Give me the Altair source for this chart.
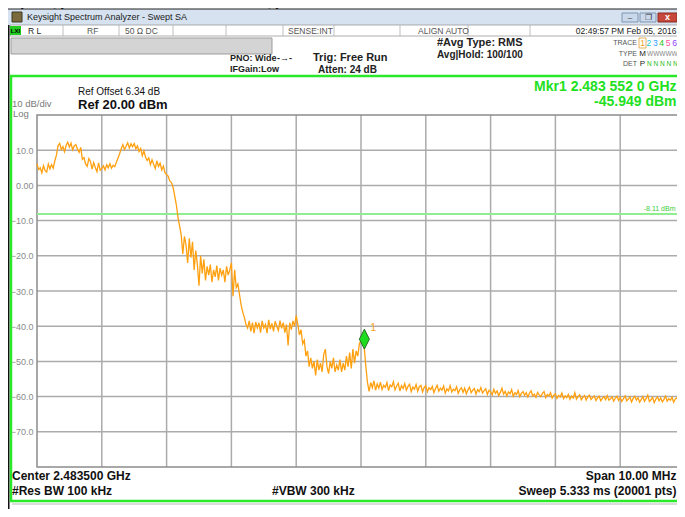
import altair as alt
import pandas as pd

center_ghz = 2.4835
span_ghz = 0.010
trace_dbm = [
    # -5 .. -4 MHz
    6.2, 4.5, 5.0, 3.6, 5.6, 4.2, 3.8, 6.1, 4.7, 5.9, 4.9, 7.0,
    8.6, 11.3, 11.9, 10.2, 11.0, 9.6, 11.4, 12.3, 10.9, 12.0, 10.1, 11.2, 11.6, 10.3, 9.4, 10.8,
    7.4, 7.9, 6.1, 5.4, 7.6, 6.8, 4.6, 6.5, 5.1, 3.9, 6.4, 4.3,
    # -4 .. -3 MHz
    4.8, 5.6, 4.4, 5.9, 5.0, 6.2, 4.9, 5.7, 5.3, 6.6,
    7.8, 9.0, 10.4, 11.6, 10.2, 11.1, 12.1, 10.6, 11.8, 11.0,
    11.9, 10.4, 11.2, 9.6, 10.5, 8.4, 9.8, 8.0, 7.1, 7.8,
    5.9, 7.3, 6.0, 4.8, 7.0, 5.4, 6.3, 4.4, 5.5, 3.6,
    # -3 .. -2 MHz
    3.0, 2.6, 1.2, 0.8, -0.5, -3.0, -5.5, -9.0, -11.5, -14.0,
    -19.5, -14.5, -17.0, -22.0, -15.0, -20.5, -16.0, -24.0, -18.5, -22.5,
    -28.5, -20.0, -25.0, -21.0, -27.0, -23.0, -25.5, -22.5, -27.5, -24.0,
    -26.0, -22.8, -27.0, -23.5, -25.5, -24.0, -27.5, -23.0, -25.5, -24.0,
    # -2 .. -1 MHz
    -22.0, -31.5, -24.0, -29.0, -28.0, -31.0, -34.0, -36.0, -37.5, -39.5,
    -40.5, -38.5, -41.5, -39.0, -42.0, -38.8, -40.5, -39.0, -41.8, -38.5,
    -40.5, -39.5, -42.0, -38.2, -40.8, -39.2, -41.5, -38.6, -40.0, -41.2,
    -38.4, -40.6, -39.0, -41.8, -39.5, -45.5, -39.0, -41.0, -38.5, -40.0,
    # -1 .. 0 MHz
    -37.0, -39.5, -42.5, -41.0, -45.0, -44.0, -48.5, -47.0, -51.5, -49.0,
    -52.0, -50.0, -54.0, -49.5, -52.5, -50.5, -53.0, -48.0, -46.5, -51.5,
    -53.5, -50.0, -52.0, -49.0, -53.0, -51.0, -52.5, -49.5, -53.0, -50.5,
    -52.5, -48.5, -51.5, -47.5, -52.0, -46.5, -50.5, -47.0, -48.5, -45.0,
    # 0 .. 1 MHz
    -44.0, -43.0, -46.0, -51.5, -56.0, -58.5, -56.0, -57.5, -55.5, -58.2,
    -56.4, -57.6, -55.9, -58.0, -56.8, -57.4, -56.0, -58.3, -56.7, -57.2,
    -55.8, -58.1, -57.0, -56.2, -58.4, -56.9, -57.7, -56.3, -58.2, -57.1,
    -56.5, -58.6, -57.3, -57.9, -56.6, -58.5, -57.2, -56.8, -58.7, -57.4,
    # 1 .. 2 MHz
    -56.9, -58.6, -57.5, -58.0, -57.1, -58.9, -57.7, -56.8, -58.5, -57.6,
    -58.2, -57.0, -59.0, -57.8, -58.4, -56.9, -58.7, -57.9, -58.3, -57.2,
    -59.1, -58.0, -57.5, -58.8, -57.6, -59.2, -58.1, -57.3, -58.9, -58.2,
    -57.7, -59.3, -58.0, -58.6, -57.4, -59.0, -58.3, -57.8, -59.4, -58.2,
    # 2 .. 3 MHz
    -58.6, -59.5, -57.9, -59.1, -58.4, -59.7, -58.8, -57.6, -59.3, -58.5,
    -59.8, -58.7, -59.2, -58.0, -59.9, -58.9, -59.4, -58.3, -60.0, -59.1,
    -58.6, -59.6, -58.9, -60.1, -59.0, -58.4, -59.8, -59.3, -60.2, -58.8,
    -59.5, -60.0, -59.1, -58.6, -60.3, -59.4, -59.8, -58.9, -60.4, -59.6,
    # 3 .. 4 MHz
    -59.2, -60.5, -59.7, -60.1, -59.0, -60.6, -59.8, -60.3, -59.4, -60.8,
    -59.9, -60.4, -58.9, -60.7, -60.0, -59.5, -60.9, -60.2, -59.7, -61.0,
    -60.1, -59.6, -60.8, -60.3, -59.8, -61.1, -60.4, -59.9, -61.2, -60.5,
    -60.0, -60.9, -59.7, -61.0, -60.6, -60.1, -61.3, -60.4, -59.9, -61.1,
    # 4 .. 5 MHz
    -60.2, -61.4, -60.6, -59.8, -61.2, -60.7, -60.1, -61.5, -60.5, -59.9,
    -61.0, -60.3, -61.6, -60.8, -60.0, -61.3, -60.6, -59.6, -61.4, -60.9,
    -60.2, -61.7, -60.7, -60.1, -61.2, -60.4, -61.5, -60.8, -59.9, -61.3,
    -60.6, -61.0, -60.2, -61.6, -60.7, -60.3, -61.4, -60.9, -60.1, -61.2,
    -60.5,
]
y_tick_values = [10, 0, -10, -20, -30, -40, -50, -60, -70]
x_grid_ghz = [2.4795, 2.4805, 2.4815, 2.4825, 2.4835, 2.4845, 2.4855, 2.4865, 2.4875]
display_line_dbm = [-8.11]
marker_freq_ghz = [2.483552]
marker_dbm = [-45.949]

FONT = "Liberation Sans"
NARROW = "Liberation Sans Narrow, Liberation Sans"
OX, OY = 37, 115          # page position of plot origin
PW, PH = 648, 352         # plotted grid size in pixels
VIEW_W = 640              # view kept inside the page; scale range reaches PW
RE = 676.5                # right edge of what the page can show

n_pts = len(trace_dbm)
start = center_ghz - span_ghz / 2
step = span_ghz / (n_pts - 1)
freqs = [round(start + i * step, 8) for i in range(n_pts)]
trace_df = pd.DataFrame({"freq_ghz": freqs, "level_dbm": trace_dbm})

xaxis = alt.Axis(labels=False, ticks=False, domain=False, title=None, grid=False)
yaxis = alt.Axis(values=y_tick_values, ticks=False, domain=False, title=None, grid=False,
                 labelColor="#8a8a8a", labelFontSize=9, labelFont=FONT, labelPadding=4,
                 labelExpr="datum.value == 0 ? '0.00' : format(datum.value, '.1f')")
X = alt.X("freq_ghz:Q", scale=alt.Scale(domain=[2.4785, 2.4885], range=[0, PW], nice=False, zero=False),
          axis=xaxis)
Y = alt.Y("level_dbm:Q", scale=alt.Scale(domain=[-80, 20], nice=False, zero=False), axis=yaxis)

one = pd.DataFrame({"k": [0]})


def T(s, x, y, size=10, weight="normal", color="#111111", align="left", font=FONT):
    return alt.Chart(one).mark_text(text=s, fontSize=size, fontWeight=weight, color=color,
                                    align=align, baseline="middle", font=font).encode(
        x=alt.value(x - OX), y=alt.value(y - OY))


def R(x1, y1, x2, y2, fill, stroke=None, sw=1.0, fill_opacity=1.0):
    kw = dict(fill=fill, fillOpacity=fill_opacity)
    if stroke:
        kw.update(stroke=stroke, strokeWidth=sw)
    return alt.Chart(one).mark_rect(**kw).encode(
        x=alt.value(x1 - OX), x2=alt.value(x2 - OX), y=alt.value(y1 - OY), y2=alt.value(y2 - OY))


def L(x1, y1, x2, y2, color, sw=1.0):
    return alt.Chart(one).mark_rule(color=color, strokeWidth=sw).encode(
        x=alt.value(x1 - OX), x2=alt.value(x2 - OX), y=alt.value(y1 - OY), y2=alt.value(y2 - OY))


layers = []
# page title (cut off at the top of the page)
layers.append(T("e]", 25, 0, size=24, color="#000000", align="right"))
layers.append(T("High Channel BandEdge", 29, 0, size=24, color="#000000"))
# window title bar
layers.append(R(8, 9, 686, 25, "#d6e2f0"))
layers.append(L(8, 9, 686, 9, "#202020", 1))
layers.append(R(12, 12, 22, 22, "#7b6a3c", "#3a3a20"))
layers.append(T("Keysight Spectrum Analyzer - Swept SA", 27, 17, size=9, color="#1a1a1a", font=NARROW))
layers.append(R(622, 13, 638, 22, "#c9d8ea", "#7f96b2"))
layers.append(R(640, 13, 656, 22, "#c9d8ea", "#7f96b2"))
layers.append(R(658, 13, 677, 22, "#c8473b", "#8a2a20"))
layers.append(T("–", 630, 18, size=8, color="#333333", align="center"))
layers.append(T("❐", 648, 17.5, size=8, color="#333333", align="center"))
layers.append(T("x", 667.5, 17, size=9, weight="bold", color="#ffffff", align="center"))
# status row
layers.append(R(10, 25, 686, 36, "#ffffff", "#9a9a9a", 0.8))
layers.append(R(10, 26, 21, 35, "#22cc22"))
layers.append(T("LXI", 15.5, 30.5, size=6, weight="bold", color="#000000", align="center"))
for sx in [63, 119, 173, 226, 283, 334, 400, 468, 530]:
    layers.append(L(sx, 25, sx, 36, "#b0b0b0", 0.8))
layers.append(T("R L", 28, 30.5, size=8.5, color="#222222", font=NARROW))
layers.append(T("RF", 87, 30.5, size=8.5, color="#555555", font=NARROW))
layers.append(T("50 Ω    DC", 125, 30.5, size=8.5, color="#555555", font=NARROW))
layers.append(T("SENSE:INT", 288, 30.5, size=8.5, color="#555555", font=NARROW))
layers.append(T("ALIGN AUTO", 418, 30.5, size=8.5, color="#555555", font=NARROW))
layers.append(T("02:49:57 PM Feb 05, 2016", RE, 30.5, size=8.5, color="#222222", align="right", font=NARROW))
# header area
layers.append(R(11, 38, 272, 54, "#d4d4d4", "#9d9d9d"))
layers.append(T("PNO: Wide", 230, 58, size=9, weight="bold", color="#222222", font=NARROW))
layers.append(T("-→-", 277, 58, size=9, weight="bold", color="#222222"))
layers.append(T("IFGain:Low", 230, 69, size=9, weight="bold", color="#222222", font=NARROW))
layers.append(T("Trig: Free Run", 313, 58, size=11, weight="bold", color="#222222", font=NARROW))
layers.append(T("Atten: 24 dB", 318, 70, size=10, weight="bold", color="#222222", font=NARROW))
layers.append(T("#Avg Type: RMS", 437, 43, size=11, weight="bold", color="#222222", font=NARROW))
layers.append(T("Avg|Hold: 100/100", 437, 55, size=10, weight="bold", color="#222222", font=NARROW))
layers.append(T("TRACE", 637, 43, size=7, color="#555555", align="right", font=NARROW))
layers.append(T("TYPE", 637, 54, size=7, color="#555555", align="right", font=NARROW))
layers.append(T("DET", 637, 64, size=7, color="#555555", align="right", font=NARROW))
layers.append(R(639, 38, 646, 48, "#ffffff", "#e0a030", 0.8))
trace_colors = ["#f0a020", "#20c8d8", "#30a0ff", "#20c020", "#ff50a0", "#9040ff"]
for k, c in enumerate(trace_colors):
    layers.append(T(str(k + 1), 642.5 + 6.4 * k, 43, size=8.5, color=c, align="center", font=NARROW))
layers.append(T("M", 642.5, 54, size=8, color="#222222", align="center", font=NARROW))
layers.append(T("WWWWW", 647, 54, size=6.5, color="#888888", font=NARROW))
layers.append(T("P", 642.5, 64, size=8, color="#222222", align="center", font=NARROW))
layers.append(T("N N N N N", 647, 64, size=6.5, color="#22bb22", font=NARROW))
# green frame and window edge
layers.append(L(8.5, 25, 8.5, 512, "#111111", 2))
layers.append(L(10, 76, 686, 76, "#2be82b", 2.5))
layers.append(L(11, 76, 11, 501, "#2be82b", 2.5))
layers.append(L(10, 501, 686, 501, "#2be82b", 2.5))
layers.append(L(12, 504, 686, 504, "#b8b8b8", 1))
# screen texts
layers.append(T("Ref Offset 6.34 dB", 78, 92, size=10, color="#111111"))
layers.append(T("Ref 20.00 dBm", 78, 105, size=13, weight="bold", color="#111111"))
layers.append(T("10 dB/div", 12, 104, size=9.5, color="#7a7a7a"))
layers.append(T("Log", 13, 113.5, size=9.5, color="#7a7a7a"))
layers.append(T("Mkr1 2.483 552 0 GHz", RE, 87, size=14, weight="bold", color="#22e022", align="right"))
layers.append(T("-45.949 dBm", RE, 101.5, size=14, weight="bold", color="#22e022", align="right"))
layers.append(T("Center 2.483500 GHz", 12, 476, size=12, weight="bold", color="#111111"))
layers.append(T("#Res BW 100 kHz", 12, 491, size=12, weight="bold", color="#111111"))
layers.append(T("#VBW 300 kHz", 272, 491, size=12, weight="bold", color="#111111"))
layers.append(T("Span 10.00 MHz", RE, 476, size=12, weight="bold", color="#111111", align="right"))
layers.append(T("Sweep  5.333 ms (20001 pts)", RE, 491, size=12, weight="bold", color="#111111", align="right"))

# plot content
GRID = "#ababab"
hgrid = alt.Chart(pd.DataFrame({"level_dbm": y_tick_values})).mark_rule(color=GRID, strokeWidth=1.5).encode(
    y=Y, x=alt.value(0), x2=alt.value(PW))
vgrid = alt.Chart(pd.DataFrame({"freq_ghz": x_grid_ghz})).mark_rule(color=GRID, strokeWidth=1.5).encode(
    x=X, y=alt.value(0), y2=alt.value(PH))
border = R(OX, OY, OX + PW, OY + PH, "#ffffff", "#8c8c8c", 1.5, 0.0)

dl_df = pd.DataFrame({"level_dbm": display_line_dbm})
mk_df = pd.DataFrame({"freq_ghz": marker_freq_ghz, "level_dbm": marker_dbm, "label": ["1"]})

trace = alt.Chart(trace_df).mark_line(color="#ffa010", strokeWidth=1.3).encode(x=X, y=Y)
dline = alt.Chart(dl_df).mark_rule(color="#8fee8f", strokeWidth=2).encode(
    y=Y, x=alt.value(0), x2=alt.value(PW))
dlabel = alt.Chart(dl_df).mark_text(text="-8.11 dBm", fontSize=7, color="#3ccc3c", align="right",
                                    baseline="bottom", dy=-2, font=FONT).encode(x=alt.value(RE - OX - 1), y=Y)
diamond = alt.Chart(mk_df).mark_point(shape="M0,-1L0.5,0L0,1L-0.5,0Z", filled=True, fill="#1edc1e",
                                      stroke="#2a6a2a", strokeWidth=1, size=400, opacity=1,
                                      yOffset=-8).encode(x=X, y=Y)
mlabel = alt.Chart(mk_df).mark_text(fontSize=10, color="#ffa010", dx=9, dy=-19, font=FONT).encode(
    x=X, y=Y, text="label:N")

chart = alt.layer(hgrid, vgrid, border, dline, trace, dlabel, diamond, mlabel, *layers).properties(
    width=VIEW_W, height=PH,
    padding={"left": OX - 8, "top": OY - 8, "right": 0, "bottom": 42},
    autosize=alt.AutoSizeParams(type="none"),
    background="#ffffff",
).configure_view(stroke=None)

chart.save("out.html", embed_options={"renderer": "svg", "actions": False})
